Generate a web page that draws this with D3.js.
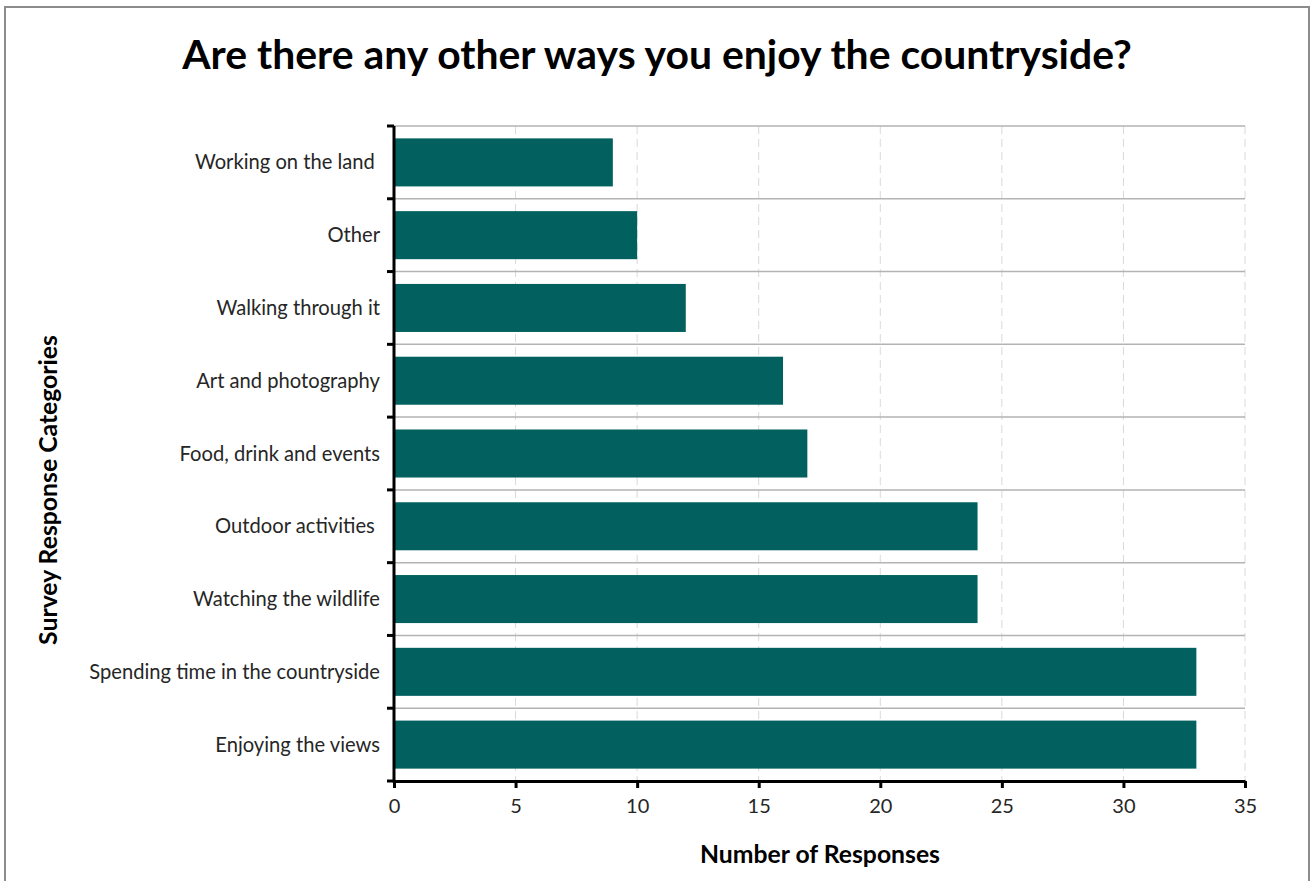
<!DOCTYPE html>
<html><head><meta charset="utf-8">
<script src="https://cdn.jsdelivr.net/npm/d3@7"></script>
<style>body{margin:0;background:#fff}svg{display:block}text{white-space:pre}</style>
</head><body><svg id="c" width="1314" height="881"></svg>
<script>
const categories = ["Working on the land ","Other","Walking through it","Art and photography","Food, drink and events","Outdoor activities ","Watching the wildlife","Spending time in the countryside","Enjoying the views"];
const values = [9,10,12,16,17,24,24,33,33];
const xTicks = [0,5,10,15,20,25,30,35];
const title = "Are there any other ways you enjoy the countryside?";
const xTitle = "Number of Responses";
const yTitle = "Survey Response Categories";

const svg = d3.select("#c");
const FONT = "Lato, 'Open Sans', sans-serif";
const m = {l:394, r:1245, t:126, b:781};
svg.append("rect").attr("x",5).attr("y",7).attr("width",1304).attr("height",900)
  .attr("fill","#fff").attr("stroke","#8c8c8c").attr("stroke-width",2);

const x = d3.scaleLinear().domain([0,35]).range([m.l,m.r]);
const y = d3.scaleBand().domain(categories).range([m.t,m.b]).paddingInner(0.34).paddingOuter(0.17);
const step = y.step();

function fit(sel, target){
  const w = sel.node().getComputedTextLength();
  const fs = +sel.attr("font-size");
  sel.attr("font-size", fs*target/w);
  return fs*target/w;
}

// vertical dashed grid
svg.append("g").selectAll("line").data(xTicks.filter(d=>d>0)).join("line")
  .attr("x1",d=>x(d)).attr("x2",d=>x(d)).attr("y1",m.t).attr("y2",m.b)
  .attr("stroke","#d9d9d9").attr("stroke-width",1).attr("stroke-dasharray","8,5");
// horizontal band boundaries
const bounds = d3.range(categories.length).map(i=>m.t+i*step);
svg.append("g").selectAll("line").data(bounds).join("line")
  .attr("x1",m.l).attr("x2",m.r).attr("y1",d=>d).attr("y2",d=>d)
  .attr("stroke","#b3b3b3").attr("stroke-width",1.5);

// bars
svg.append("g").selectAll("rect").data(categories).join("rect")
  .attr("x",x(0)).attr("y",d=>y(d)).attr("height",y.bandwidth())
  .attr("width",(d,i)=>x(values[i])-x(0)).attr("fill","#02615E");

// x axis
const xa = svg.append("g").attr("transform",`translate(0,${m.b})`)
  .call(d3.axisBottom(x).tickValues(xTicks).tickSize(7).tickSizeOuter(0));
xa.select(".domain").attr("stroke","#000").attr("stroke-width",3);
xa.selectAll(".tick line").attr("stroke","#000").attr("stroke-width",3);
xa.selectAll(".tick text").attr("font-family",FONT).attr("font-size",20).attr("fill","#262626").attr("y",14).attr("dy","0.9em");

// y axis line + ticks at band boundaries
svg.append("line").attr("x1",m.l).attr("x2",m.l).attr("y1",m.t).attr("y2",m.b+1.5)
  .attr("stroke","#000").attr("stroke-width",3);
svg.append("g").selectAll("line").data(bounds.concat([m.b])).join("line")
  .attr("x1",m.l-7).attr("x2",m.l).attr("y1",d=>d).attr("y2",d=>d)
  .attr("stroke","#000").attr("stroke-width",3);
const labels = svg.append("g").selectAll("text").data(categories).join("text")
  .attr("x",380).attr("y",d=>y(d)+y.bandwidth()/2).attr("dy","0.35em")
  .attr("text-anchor","end").attr("font-family",FONT).attr("font-size",18).attr("fill","#262626")
  .text(d=>d);
const lfs = fit(labels.filter(d=>d==="Spending time in the countryside"), 291);
labels.attr("font-size", lfs);

// titles
const t = svg.append("text").attr("x",657).attr("y",69).attr("text-anchor","middle")
  .attr("font-family",FONT).attr("font-weight","bold").attr("font-size",36).attr("fill","#000").text(title);
fit(t, 950);
const xt = svg.append("text").attr("x",820).attr("y",863).attr("text-anchor","middle")
  .attr("font-family",FONT).attr("font-weight","bold").attr("font-size",20).attr("fill","#000").text(xTitle);
fit(xt, 240);
const yt = svg.append("text").attr("transform","translate(57,490) rotate(-90)").attr("text-anchor","middle")
  .attr("font-family",FONT).attr("font-weight","bold").attr("font-size",20).attr("fill","#000").text(yTitle);
fit(yt, 310);
</script></body></html>
